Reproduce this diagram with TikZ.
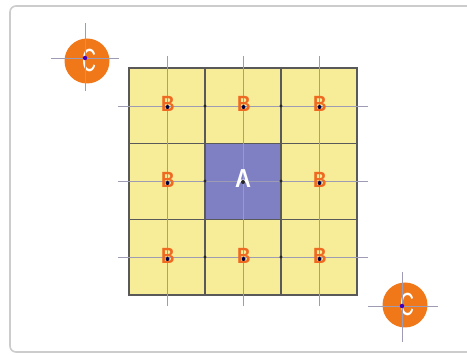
\documentclass[tikz,border=0pt]{standalone}
\usepackage{fontspec}
\setmainfont{Liberation Sans}
\definecolor{cellyellow}{HTML}{F7EC98}
\definecolor{cellblue}{HTML}{7F7FC4}
\definecolor{guidegray}{HTML}{9E9CB4}
\definecolor{markorange}{HTML}{EE6A22}
\definecolor{diskorange}{HTML}{F07818}
\begin{document}
\begin{tikzpicture}[x=1pt,y=-1pt,
  cellbox/.style={draw=black!65, line width=1.2pt},
  guide/.style={draw=guidegray, line width=0.9pt},
  ptdot/.style={circle, fill=black!85, inner sep=0pt, minimum size=3.4pt},
  bmark/.style={text=markorange, font=\bfseries\fontsize{22}{22}\selectfont, inner sep=0pt, xscale=0.85},
  amark/.style={text=white, font=\bfseries\fontsize{26}{26}\selectfont, inner sep=0pt, xscale=0.85},
  cdisk/.style={circle, fill=diskorange, minimum size=45pt, inner sep=0pt},
  cletter/.style={text=white, font=\fontsize{32}{32}\selectfont, inner sep=0pt, xscale=0.6},
  cdot/.style={circle, fill=blue!50!violet, inner sep=0pt, minimum size=4.5pt}]
\useasboundingbox (0,0) rectangle (467,355);
\fill[white] (0,0) rectangle (467,355);
% outer frame
\draw[black!20, line width=1.6pt, rounded corners=6pt] (10,6) rectangle (480,352);
% grid cells
\fill[cellyellow] (129,68) rectangle (357,295);
\fill[cellblue] (205,143.7) rectangle (281,219.3);
\draw[cellbox] (129,68) rectangle (357,295);
\draw[cellbox] (205,68) -- (205,295) (281,68) -- (281,295)
               (129,143.7) -- (357,143.7) (129,219.3) -- (357,219.3);
% guide lines through cell centres
\foreach \x in {167,243,319} \draw[guide] (\x,56) -- (\x,306);
\foreach \y in {106,181,257} \draw[guide] (118,\y) -- (368,\y);
% dots on cell borders
\foreach \y in {106,181,257} {
  \node[ptdot] at (205,\y) {};
  \node[ptdot] at (281,\y) {};
}
% B labels
\foreach \n/\x/\y in {b1/168/104,b2/244/104,b3/320/104,b4/168/180,b6/320/180,b7/168/256,b8/244/256,b9/320/256} {
  \node[bmark] (\n) at (\x,\y) {B};
  \node[ptdot, fill=blue!25!black, minimum size=4pt] at ([xshift=-0.5pt,yshift=-3pt]\n.center) {};
}
% A label
\node[amark] (a) at (243,179) {A};
\node[ptdot, minimum size=4pt] at (243,182) {};
% C markers
\node[cdisk] (c1) at (87,61) {};
\node[cletter] at (89,60) {C};
\draw[guide] (85,23) -- (85,91) (51,58) -- (119,58);
\node[cdot] at (85,58) {};
\node[cdisk] (c2) at (405,305) {};
\node[cletter] at (407,304) {C};
\draw[guide] (402,272) -- (402,342) (368,306) -- (438,306);
\node[cdot] at (402,306) {};
\end{tikzpicture}
\end{document}
